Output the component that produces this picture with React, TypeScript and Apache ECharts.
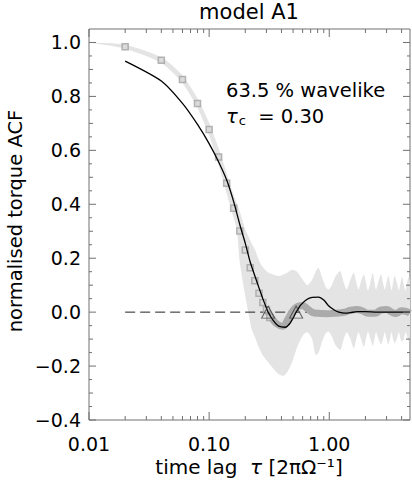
import React, { useEffect, useRef } from 'react';
import * as echarts from 'echarts';

const X_MIN = 0.01;
const X_MAX = 4.7;
const Y_MIN = -0.4;
const Y_MAX = 1.05;

// square markers (mean ACF, early lags)
const SQUARE_X = [0.02, 0.04, 0.06, 0.08, 0.10, 0.12, 0.14, 0.16, 0.18, 0.20, 0.22, 0.24, 0.26, 0.28, 0.30, 0.32];
const SQUARE_Y = [0.984, 0.934, 0.863, 0.774, 0.677, 0.575, 0.478, 0.385, 0.301, 0.230, 0.165, 0.116, 0.070, 0.036, 0.009, -0.02];

// black curve
const BLACK_X = [0.02, 0.04, 0.06, 0.08, 0.10, 0.12, 0.14, 0.16, 0.18, 0.20, 0.22, 0.24, 0.26, 0.28, 0.30, 0.31, 0.34, 0.38, 0.43, 0.47, 0.50, 0.53, 0.58, 0.65, 0.72, 0.815, 0.90, 0.986, 1.1, 1.2, 1.35, 1.5, 1.7, 2.0, 2.5, 3.2, 4.7];
const BLACK_Y = [0.931, 0.857, 0.774, 0.696, 0.625, 0.557, 0.49, 0.41, 0.325, 0.255, 0.185, 0.135, 0.09, 0.05, 0.015, 0.0, -0.03, -0.052, -0.056, -0.042, -0.022, 0.0, 0.027, 0.047, 0.055, 0.056, 0.045, 0.024, 0.008, 0.0, -0.004, -0.002, 0.002, 0.002, 0.0, 0.0, 0.0];

// thick grey mean curve (late lags)
const MEAN_X = [0.30, 0.33, 0.37, 0.41, 0.45, 0.50, 0.55, 0.60, 0.66, 0.75, 0.85, 0.95, 1.05, 1.2, 1.35, 1.5, 1.7, 1.9, 2.1, 2.4, 2.7, 3.0, 3.3, 3.6, 4.0, 4.4, 4.7];
const MEAN_Y = [0.01, -0.02, -0.045, -0.052, -0.028, 0.006, 0.022, 0.025, 0.012, -0.003, -0.005, -0.006, -0.005, -0.003, 0.0, 0.007, 0.01, 0.004, -0.004, -0.004, 0.008, 0.01, 0.0, -0.005, 0.005, 0.002, -0.004];

// light grey envelope
const BAND_X = [0.01, 0.02, 0.04, 0.06, 0.08, 0.10, 0.12, 0.14, 0.16, 0.17, 0.18, 0.20, 0.226, 0.24, 0.256, 0.275, 0.31, 0.35, 0.38, 0.417, 0.45, 0.49, 0.54, 0.58, 0.62, 0.66, 0.72, 0.77, 0.815, 0.87, 0.93, 0.986, 1.05, 1.12, 1.235, 1.32, 1.40, 1.50, 1.60, 1.68, 1.75, 1.84, 1.94, 2.02, 2.10, 2.20, 2.30, 2.38, 2.45, 2.57, 2.70, 2.80, 2.90, 3.00, 3.10, 3.20, 3.30, 3.40, 3.50, 3.65, 3.80, 3.92, 4.05, 4.18, 4.30, 4.45, 4.60, 4.70];
const BAND_HI = [1.0, 0.992, 0.945, 0.878, 0.793, 0.702, 0.607, 0.515, 0.435, 0.405, 0.373, 0.307, 0.255, 0.233, 0.200, 0.171, 0.147, 0.138, 0.134, 0.140, 0.147, 0.157, 0.150, 0.130, 0.112, 0.10, 0.12, 0.150, 0.164, 0.13, 0.095, 0.084, 0.10, 0.13, 0.152, 0.11, 0.084, 0.12, 0.146, 0.11, 0.084, 0.115, 0.14, 0.11, 0.08, 0.11, 0.146, 0.11, 0.084, 0.115, 0.14, 0.11, 0.084, 0.11, 0.135, 0.11, 0.08, 0.11, 0.135, 0.11, 0.08, 0.11, 0.13, 0.10, 0.08, 0.11, 0.13, 0.11];
const BAND_LO = [1.0, 0.977, 0.924, 0.85, 0.757, 0.655, 0.545, 0.44, 0.35, 0.307, 0.184, 0.06, -0.063, -0.09, -0.125, -0.155, -0.186, -0.215, -0.23, -0.236, -0.22, -0.186, -0.13, -0.10, -0.08, -0.075, -0.10, -0.16, -0.15, -0.11, -0.08, -0.072, -0.09, -0.12, -0.14, -0.10, -0.075, -0.10, -0.135, -0.10, -0.075, -0.10, -0.13, -0.10, -0.072, -0.10, -0.125, -0.10, -0.075, -0.10, -0.12, -0.10, -0.075, -0.10, -0.12, -0.10, -0.075, -0.10, -0.115, -0.10, -0.075, -0.10, -0.11, -0.10, -0.075, -0.09, -0.11, -0.09];

// zero crossings (triangles)
const CROSS_X = [0.31, 0.53];
const CROSS_Y = [0, 0];

// dashed zero line
const ZERO_X = [0.02, 4.7];
const ZERO_Y = [0, 0];

// ticks
const X_MAJOR = [0.01, 0.1, 1];
const X_MINOR = [0.02, 0.03, 0.04, 0.05, 0.06, 0.07, 0.08, 0.09, 0.2, 0.3, 0.4, 0.5, 0.6, 0.7, 0.8, 0.9, 2, 3, 4];
const Y_MAJOR = [-0.4, -0.2, 0, 0.2, 0.4, 0.6, 0.8, 1.0];
const Y_MID = [-0.3, -0.1, 0.1, 0.3, 0.5, 0.7, 0.9];
const Y_SMALL = [-0.35, -0.25, -0.15, -0.05, 0.05, 0.15, 0.25, 0.35, 0.45, 0.55, 0.65, 0.75, 0.85, 0.95];

const TITLE = 'model A1';
const Y_NAME = 'normalised torque ACF';
const NOTE_1 = '63.5 % wavelike';
const TAU_C = '0.30';

const FONT = 'DejaVu Sans';
const AXIS_COLOR = '#707070';

export default function App() {
  const ref = useRef<HTMLDivElement>(null);

  useEffect(() => {
    if (!ref.current) return;
    const chart = echarts.init(ref.current, undefined, { renderer: 'svg' });

    const zip = (xs: number[], ys: number[]) => xs.map((x, i) => [x, ys[i]]);

    const option: any = {
      animation: false,
      backgroundColor: '#fff',
      grid: {
        left: 89,
        right: 2,
        top: 29,
        bottom: 61,
        show: true,
        borderColor: AXIS_COLOR,
        borderWidth: 1,
        backgroundColor: 'transparent',
      },
      xAxis: {
        type: 'log',
        logBase: 10,
        min: X_MIN,
        max: X_MAX,
        axisLine: { show: false },
        axisTick: { show: false },
        splitLine: { show: false },
        minorTick: { show: false },
        axisLabel: {
          margin: 15,
          fontSize: 19,
          lineHeight: 17,
          fontFamily: FONT,
          color: '#000',
          showMaxLabel: false,
          formatter: (v: number) => {
            const l = Math.log10(v);
            return Math.abs(l - Math.round(l)) < 1e-6 ? v.toFixed(2) : '';
          },
        },
      },
      yAxis: {
        type: 'value',
        min: Y_MIN,
        max: Y_MAX,
        interval: 0.2,
        axisLine: { show: false },
        axisTick: { show: false },
        splitLine: { show: false },
        axisLabel: {
          margin: 8,
          fontSize: 19,
          fontFamily: FONT,
          color: '#000',
          formatter: (v: number) => {
            if (Math.abs(v * 5 - Math.round(v * 5)) > 1e-6) return '';
            const s = Math.abs(v).toFixed(1);
            return v < -1e-9 ? '\u2212' + s : s;
          },
        },
      },
      series: [
        {
          type: 'custom',
          silent: true,
          clip: true,
          z: 1,
          data: [[BAND_X[0], BAND_HI[0]]],
          renderItem: (_params: any, api: any) => {
            const pts: number[][] = [];
            BAND_X.forEach((x, i) => pts.push(api.coord([x, BAND_HI[i]])));
            for (let i = BAND_X.length - 1; i >= 0; i--) pts.push(api.coord([BAND_X[i], BAND_LO[i]]));
            return {
              type: 'polygon',
              shape: { points: pts, smooth: 0.25 },
              style: { fill: '#e4e4e4', stroke: 'none' },
            };
          },
        },
        {
          type: 'line',
          z: 2,
          data: zip(ZERO_X, ZERO_Y),
          showSymbol: false,
          silent: true,
          lineStyle: { color: '#222', width: 1, type: [10, 5] },
        },
        {
          type: 'line',
          z: 3,
          data: zip(MEAN_X, MEAN_Y),
          smooth: true,
          showSymbol: false,
          silent: true,
          lineStyle: { color: '#ababab', width: 7 },
        },
        {
          type: 'scatter',
          z: 4,
          data: zip(SQUARE_X, SQUARE_Y),
          symbol: 'rect',
          symbolSize: 6,
          silent: true,
          itemStyle: { color: '#d8d8d8', borderColor: '#a3a3a3', borderWidth: 1.5 },
        },
        {
          type: 'line',
          z: 5,
          data: zip(BLACK_X, BLACK_Y),
          smooth: 0.25,
          showSymbol: false,
          silent: true,
          lineStyle: { color: '#000', width: 1.3 },
        },
        {
          type: 'scatter',
          z: 6,
          data: zip(CROSS_X, CROSS_Y),
          symbol: 'triangle',
          symbolSize: [13, 12],
          silent: true,
          itemStyle: { color: 'rgba(0,0,0,0)', borderColor: '#3a3a3a', borderWidth: 1 },
        },
        {
          type: 'custom',
          silent: true,
          z: 7,
          data: [[X_MIN, Y_MIN]],
          renderItem: (params: any, api: any) => {
            const cs = params.coordSys;
            const left = cs.x;
            const right = cs.x + cs.width;
            const top = cs.y;
            const bottom = cs.y + cs.height;
            const children: any[] = [];
            const seg = (x1: number, y1: number, x2: number, y2: number) =>
              children.push({
                type: 'line',
                shape: { x1, y1, x2, y2 },
                style: { stroke: AXIS_COLOR, lineWidth: 1 },
              });
            const xt = (v: number, len: number) => {
              const px = api.coord([v, 0])[0];
              seg(px, bottom, px, bottom - len);
              seg(px, top, px, top + len);
            };
            const yt = (v: number, len: number) => {
              const py = api.coord([X_MIN, v])[1];
              seg(left, py, left + len, py);
              seg(right, py, right - len, py);
            };
            X_MAJOR.forEach((v) => xt(v, 8));
            X_MINOR.forEach((v) => xt(v, 4));
            Y_MAJOR.forEach((v) => yt(v, 7));
            Y_MID.forEach((v) => yt(v, 4));
            Y_SMALL.forEach((v) => yt(v, 3));
            return { type: 'group', children };
          },
        },
      ],
      graphic: [
        {
          type: 'text',
          x: 249,
          y: 12,
          style: {
            text: TITLE,
            fontSize: 21,
            fontFamily: FONT,
            fill: '#000',
            align: 'center',
            verticalAlign: 'middle',
          },
        },
        {
          type: 'text',
          x: 15,
          y: 221,
          rotation: Math.PI / 2,
          style: {
            text: Y_NAME,
            fontSize: 19.5,
            fontFamily: FONT,
            fill: '#000',
            align: 'center',
            verticalAlign: 'middle',
          },
        },
        {
          type: 'text',
          x: 249,
          y: 467,
          style: {
            text: 'time lag  {i|\u03c4} [2\u03c0\u03a9\u207b\u00b9]',
            fontSize: 20,
            lineHeight: 18,
            fontFamily: FONT,
            fill: '#000',
            align: 'center',
            verticalAlign: 'middle',
            rich: {
              i: { fontSize: 20, lineHeight: 18, fontFamily: FONT, fontStyle: 'italic', fill: '#000' },
            },
          },
        },
        {
          type: 'text',
          x: 226,
          y: 90,
          style: {
            text: NOTE_1,
            fontSize: 19.5,
            fontFamily: FONT,
            fill: '#000',
            align: 'left',
            verticalAlign: 'middle',
          },
        },
        {
          type: 'text',
          x: 226,
          y: 116,
          style: {
            text: '{t|\u03c4}{c|c}{n|  = ' + TAU_C + '}',
            fontSize: 19.5,
            fontFamily: FONT,
            fill: '#000',
            align: 'left',
            verticalAlign: 'middle',
            rich: {
              t: { fontSize: 19.5, fontFamily: FONT, fontStyle: 'italic', fill: '#000', lineHeight: 26, verticalAlign: 'middle' },
              c: { fontSize: 13, fontFamily: FONT, fill: '#000', lineHeight: 26, verticalAlign: 'bottom', padding: [0, 0, 2, 1] },
              n: { fontSize: 19.5, fontFamily: FONT, fill: '#000', lineHeight: 26, verticalAlign: 'middle' },
            },
          },
        },
      ],
    };

    chart.setOption(option);
    return () => chart.dispose();
  }, []);

  return (
    <div
      ref={ref}
      style={{ position: 'fixed', left: 0, top: 0, width: 412, height: 481, background: '#fff' }}
    />
  );
}
